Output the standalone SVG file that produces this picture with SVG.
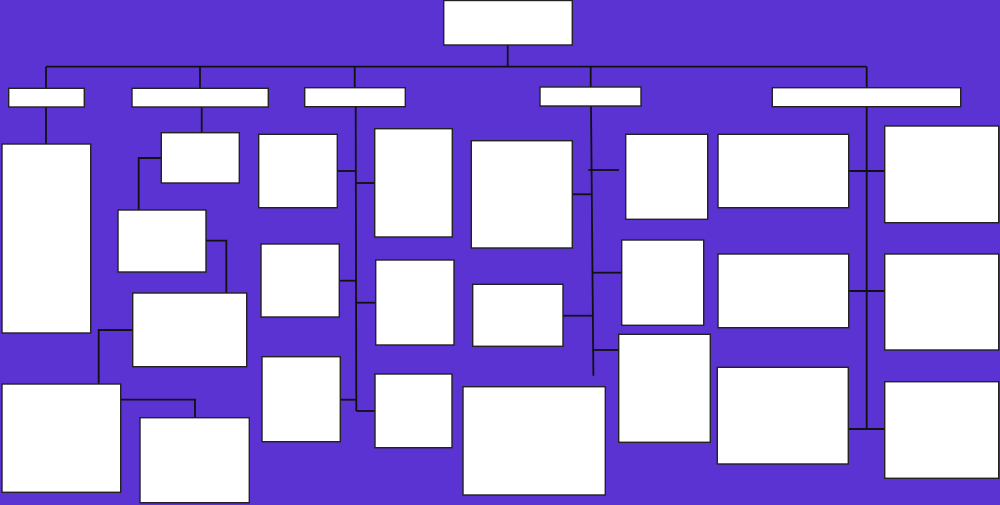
<svg xmlns="http://www.w3.org/2000/svg" width="1000" height="505" viewBox="0 0 1000 505">
<style>
.n{fill:#ffffff;stroke:#222222;stroke-width:1.4}
.c line,.c polyline{stroke:#111111;stroke-width:1.8;fill:none}
</style>
<rect x="0" y="0" width="1000" height="505" fill="#5b33d3"/>
<g class="c" id="connectors">
<line x1="507.7" y1="45" x2="507.7" y2="66.7"/>
<line x1="46" y1="66.7" x2="866.7" y2="66.7"/>
<line x1="46" y1="66.7" x2="46" y2="88.3"/>
<line x1="200" y1="66.7" x2="200" y2="88.3"/>
<line x1="354.7" y1="66.7" x2="354.7" y2="87.7"/>
<line x1="590.7" y1="66.7" x2="590.7" y2="87"/>
<line x1="866.7" y1="66.7" x2="866.7" y2="87.7"/>
<line x1="46" y1="107" x2="46" y2="144"/>
<line x1="201.7" y1="107" x2="201.7" y2="132.7"/>
<polyline points="161.3,158 138.7,158 138.7,210"/>
<polyline points="206,240.7 226.3,240.7 226.3,293"/>
<polyline points="132.7,330 98.7,330 98.7,384"/>
<polyline points="120.7,399.7 195,399.7 195,417.7"/>
<line x1="355.7" y1="106.7" x2="356.3" y2="411"/>
<line x1="337.3" y1="171" x2="355.8" y2="171"/>
<line x1="339.3" y1="280.7" x2="356" y2="280.7"/>
<line x1="340.3" y1="399.7" x2="356.2" y2="399.7"/>
<line x1="355.8" y1="183" x2="374.7" y2="183"/>
<line x1="356" y1="302.7" x2="375.7" y2="302.7"/>
<line x1="356.2" y1="411" x2="375" y2="411"/>
<line x1="591" y1="106" x2="593.4" y2="375.7"/>
<line x1="572.3" y1="194.3" x2="591.8" y2="194.3"/>
<line x1="563" y1="315.7" x2="592.8" y2="315.7"/>
<line x1="588.3" y1="170" x2="619" y2="170"/>
<line x1="592.3" y1="272.7" x2="621.7" y2="272.7"/>
<line x1="592.7" y1="350" x2="618.7" y2="350"/>
<line x1="866.7" y1="106.7" x2="866.7" y2="429"/>
<line x1="848.7" y1="171" x2="884.7" y2="171"/>
<line x1="848.7" y1="291" x2="884.7" y2="291"/>
<line x1="848.3" y1="429" x2="884.7" y2="429"/>
</g>
<g id="root"><rect class="n" x="443.7" y="0.5" width="128.6" height="44.5"/></g>
<g id="a"><rect class="n" x="8.7" y="88.3" width="75.6" height="18.7"/></g>
<g id="b"><rect class="n" x="132" y="88.3" width="136.3" height="18.7"/></g>
<g id="c"><rect class="n" x="304.7" y="87.7" width="100.6" height="19"/></g>
<g id="d"><rect class="n" x="540" y="87" width="101" height="19"/></g>
<g id="e"><rect class="n" x="772.3" y="87.7" width="188.4" height="19"/></g>
<g id="a1"><rect class="n" x="2" y="144" width="88.7" height="189"/></g>
<g id="b1"><rect class="n" x="161.3" y="132.7" width="78" height="50.3"/></g>
<g id="b2"><rect class="n" x="118" y="210" width="88" height="62"/></g>
<g id="b3"><rect class="n" x="132.7" y="293" width="114" height="73.7"/></g>
<g id="b4"><rect class="n" x="2" y="384" width="118.7" height="108.3"/></g>
<g id="b5"><rect class="n" x="140" y="417.7" width="109.3" height="85"/></g>
<g id="c1"><rect class="n" x="258.7" y="134.3" width="78.6" height="73.4"/></g>
<g id="c2"><rect class="n" x="261" y="244" width="78.3" height="73"/></g>
<g id="c3"><rect class="n" x="262" y="356.7" width="78.3" height="85"/></g>
<g id="c4"><rect class="n" x="374.7" y="128.7" width="77.6" height="108.3"/></g>
<g id="c5"><rect class="n" x="375.7" y="260" width="78.3" height="85"/></g>
<g id="c6"><rect class="n" x="375" y="374" width="77" height="73.7"/></g>
<g id="d1"><rect class="n" x="471.3" y="140.7" width="101" height="107.3"/></g>
<g id="d2"><rect class="n" x="472.7" y="284.3" width="90.3" height="62"/></g>
<g id="d3"><rect class="n" x="463" y="386.7" width="142.3" height="108.3"/></g>
<g id="d4"><rect class="n" x="625.7" y="134.3" width="82" height="85"/></g>
<g id="d5"><rect class="n" x="621.7" y="240" width="82" height="85.3"/></g>
<g id="d6"><rect class="n" x="618.7" y="334.3" width="91.6" height="108"/></g>
<g id="e1"><rect class="n" x="718" y="134.3" width="130.7" height="73.4"/></g>
<g id="e2"><rect class="n" x="718" y="254" width="130.7" height="73.7"/></g>
<g id="e3"><rect class="n" x="717.3" y="367.3" width="131" height="96.7"/></g>
<g id="e4"><rect class="n" x="884.7" y="126" width="114" height="96.7"/></g>
<g id="e5"><rect class="n" x="884.7" y="254" width="114" height="96"/></g>
<g id="e6"><rect class="n" x="884.7" y="381.7" width="114" height="96.6"/></g>
</svg>
